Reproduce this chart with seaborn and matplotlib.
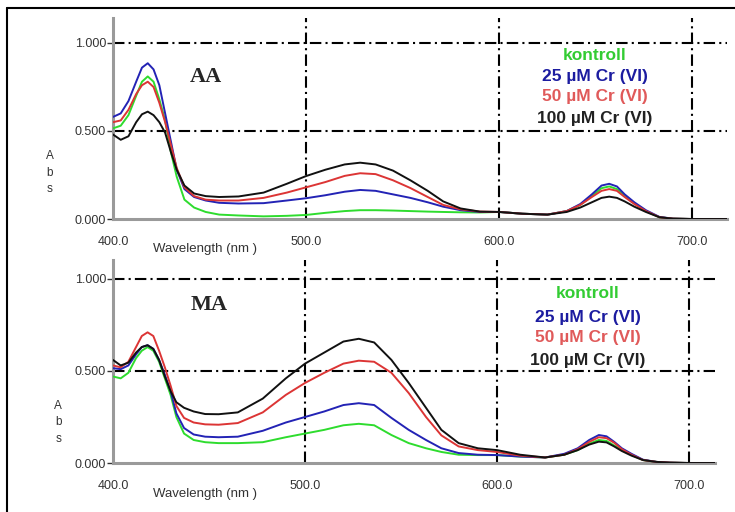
import numpy as np
import pandas as pd
import matplotlib.pyplot as plt
import seaborn as sns
from matplotlib.lines import Line2D

# Wavelength grid (nm)
wavelength = [400, 404, 408, 412, 415, 418, 421, 424, 427, 430, 433, 437, 442, 448, 455,
              465, 478, 490, 500, 510, 520, 528, 536, 545, 554, 563, 571, 580, 590, 600,
              612, 625, 635, 642, 648, 653, 657, 661, 665, 670, 676, 683, 690, 700, 718]

series_names = ['kontroll', '25 µM Cr (VI)', '50 µM Cr (VI)', '100 µM Cr (VI)']

# AA panel (absorbance)
aa_kontroll = [0.515, 0.53, 0.59, 0.70, 0.78, 0.81, 0.78, 0.68, 0.56, 0.38, 0.24, 0.11, 0.065, 0.04, 0.025,
               0.02, 0.015, 0.018, 0.023, 0.035, 0.045, 0.05, 0.05, 0.048, 0.045, 0.042, 0.04, 0.038, 0.037, 0.04,
               0.03, 0.025, 0.045, 0.08, 0.13, 0.175, 0.185, 0.17, 0.135, 0.09, 0.045, 0.01, 0.002, 0.0, 0.0]
aa_25 = [0.58, 0.60, 0.67, 0.78, 0.86, 0.885, 0.85, 0.76, 0.60, 0.44, 0.28, 0.17, 0.125, 0.105, 0.092,
         0.088, 0.09, 0.105, 0.118, 0.135, 0.155, 0.165, 0.16, 0.14, 0.12, 0.095, 0.07, 0.05, 0.04, 0.04,
         0.03, 0.025, 0.045, 0.085, 0.14, 0.19, 0.20, 0.185, 0.14, 0.095, 0.05, 0.012, 0.002, 0.0, 0.0]
aa_50 = [0.55, 0.56, 0.62, 0.71, 0.76, 0.78, 0.75, 0.66, 0.55, 0.42, 0.29, 0.18, 0.13, 0.11, 0.105,
         0.105, 0.12, 0.15, 0.18, 0.21, 0.245, 0.26, 0.255, 0.22, 0.176, 0.125, 0.08, 0.055, 0.042, 0.04,
         0.03, 0.025, 0.045, 0.08, 0.125, 0.16, 0.17, 0.16, 0.125, 0.085, 0.045, 0.01, 0.002, 0.0, 0.0]
aa_100 = [0.48, 0.45, 0.47, 0.55, 0.595, 0.61, 0.59, 0.55, 0.49, 0.38, 0.28, 0.19, 0.145, 0.13, 0.125,
          0.128, 0.15, 0.20, 0.244, 0.28, 0.31, 0.32, 0.31, 0.275, 0.22, 0.16, 0.10, 0.06, 0.042, 0.04,
          0.03, 0.025, 0.04, 0.065, 0.095, 0.12, 0.127, 0.12, 0.10, 0.07, 0.04, 0.01, 0.002, 0.0, 0.0]

# MA panel (absorbance)
ma_kontroll = [0.47, 0.46, 0.49, 0.57, 0.61, 0.63, 0.61, 0.55, 0.46, 0.37, 0.25, 0.16, 0.125, 0.113, 0.108,
               0.108, 0.113, 0.14, 0.16, 0.18, 0.205, 0.213, 0.205, 0.152, 0.108, 0.08, 0.06, 0.045, 0.043, 0.043,
               0.035, 0.03, 0.045, 0.07, 0.105, 0.125, 0.12, 0.095, 0.07, 0.045, 0.016, 0.006, 0.002, 0.0, 0.0]
ma_25 = [0.515, 0.51, 0.53, 0.59, 0.63, 0.64, 0.62, 0.56, 0.48, 0.39, 0.27, 0.19, 0.155, 0.143, 0.14,
         0.143, 0.175, 0.22, 0.25, 0.28, 0.315, 0.325, 0.315, 0.245, 0.18, 0.125, 0.08, 0.054, 0.045, 0.043,
         0.035, 0.03, 0.05, 0.08, 0.125, 0.152, 0.145, 0.115, 0.08, 0.05, 0.018, 0.006, 0.002, 0.0, 0.0]
ma_50 = [0.53, 0.52, 0.55, 0.63, 0.69, 0.71, 0.69, 0.61, 0.52, 0.42, 0.31, 0.245, 0.22, 0.21, 0.208,
         0.217, 0.275, 0.37, 0.435, 0.49, 0.54, 0.556, 0.55, 0.49, 0.38, 0.25, 0.15, 0.09, 0.07, 0.06,
         0.04, 0.03, 0.045, 0.075, 0.115, 0.14, 0.135, 0.11, 0.075, 0.045, 0.016, 0.006, 0.002, 0.0, 0.0]
ma_100 = [0.56, 0.53, 0.545, 0.60, 0.63, 0.64, 0.62, 0.56, 0.47, 0.39, 0.33, 0.30, 0.28, 0.266, 0.265,
          0.275, 0.35, 0.46, 0.54, 0.60, 0.66, 0.675, 0.655, 0.56, 0.435, 0.30, 0.18, 0.108, 0.08, 0.07,
          0.045, 0.03, 0.045, 0.07, 0.10, 0.116, 0.112, 0.09, 0.065, 0.04, 0.016, 0.006, 0.002, 0.0, 0.0]

line_colors = ['#2edc2e', '#2323b5', '#dc3535', '#111111']
text_colors = ['#33cc33', '#1c1ca0', '#e05a5a', '#222222']
xticks = [400, 500, 600, 700]
yticks = [0.0, 0.5, 1.0]


def long_frame(values):
    rows = []
    for name, vals in zip(series_names, values):
        rows.append(pd.DataFrame({'wl': wavelength, 'abs': vals, 'series': name}))
    return pd.concat(rows, ignore_index=True)


sns.set_style('white')
plt.rcParams['font.family'] = ['Liberation Sans', 'DejaVu Sans']

fig = plt.figure(figsize=(7.35, 5.12), dpi=100)

# outer frame (clipped at right and bottom as in the scan)
fig.add_artist(Line2D([7 / 735, 1.0], [1 - 8 / 512] * 2, transform=fig.transFigure, color='black', lw=1.5))
fig.add_artist(Line2D([7 / 735] * 2, [0.0, 1 - 8 / 512], transform=fig.transFigure, color='black', lw=1.5))

panels = [
    dict(rect=[113 / 735, 1 - 219 / 512, 614 / 735, 201 / 512], xmax=718, ymax=1.142,
         values=[aa_kontroll, aa_25, aa_50, aa_100], title='AA', title_xy=(0.151, 0.706),
         legend_x=0.785, legend_y=[0.811, 0.711, 0.607, 0.502], abs_xy=(-0.103, 0.229),
         xlabel_xy=(0.15, -0.12)),
    dict(rect=[113 / 735, 1 - 463 / 512, 602 / 735, 203 / 512], xmax=713.5, ymax=1.103,
         values=[ma_kontroll, ma_25, ma_50, ma_100], title='MA', title_xy=(0.16, 0.778),
         legend_x=0.789, legend_y=[0.837, 0.719, 0.616, 0.507], abs_xy=(-0.091, 0.2),
         xlabel_xy=(0.153, -0.123)),
]

grid_style = dict(color='black', lw=1.5, linestyle=(0, (5.5, 2, 1, 2)), zorder=1)

for p in panels:
    ax = fig.add_axes(p['rect'])
    df = long_frame(p['values'])
    sns.lineplot(data=df, x='wl', y='abs', hue='series', palette=line_colors,
                 legend=False, ax=ax, lw=1.4, zorder=3)
    ax.set_xlim(400, p['xmax'])
    ax.set_ylim(0, p['ymax'])

    for x in xticks[1:]:
        ax.axvline(x, **grid_style)
    for y in yticks[1:]:
        ax.axhline(y, **grid_style)

    ax.set_xticks(xticks)
    ax.set_xticklabels([f'{v:.1f}' for v in xticks])
    ax.set_yticks(yticks)
    ax.set_yticklabels([f'{v:.3f}' for v in yticks])
    ax.tick_params(axis='x', length=0, pad=12, labelsize=9, labelcolor='#333333')
    ax.tick_params(axis='y', left=True, length=4, width=1, color='#333333', pad=1,
                   labelsize=9, labelcolor='#333333')

    for side in ['top', 'right']:
        ax.spines[side].set_visible(False)
    for side in ['left', 'bottom']:
        ax.spines[side].set_color('#9a9a9a')
        ax.spines[side].set_linewidth(2.2)

    ax.set_ylabel('')
    ax.set_xlabel('Wavelength (nm )', fontsize=9.5, color='#333333')
    ax.xaxis.set_label_coords(*p['xlabel_xy'])
    ax.text(*p['abs_xy'], 'A\nb\ns', transform=ax.transAxes, ha='center', va='center',
            fontsize=8.5, color='#333333', linespacing=1.5)

    ax.text(*p['title_xy'], p['title'], transform=ax.transAxes, ha='center', va='center',
            fontsize=16, fontweight='bold', family='Liberation Serif')

    for name, color, ty in zip(series_names, text_colors, p['legend_y']):
        ax.text(p['legend_x'], ty, name, transform=ax.transAxes, ha='center', va='center',
                fontsize=12.5, fontweight='bold', color=color)

fig.savefig('out.png', dpi=100)
